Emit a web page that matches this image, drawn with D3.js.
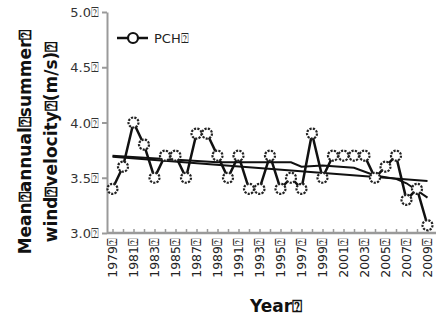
<!DOCTYPE html>
<html>
<head>
<meta charset="utf-8">
<script src="https://cdn.jsdelivr.net/npm/d3@7"></script>
<style>
  body { margin: 0; background: #fff; }
  svg { display: block; font-family: "DejaVu Sans", sans-serif; }
</style>
</head>
<body>
<div id="chart"></div>
<script>
const BOX = "\u2370";
const years = d3.range(1979, 2010);
const pch = [3.4, 3.6, 4.0, 3.8, 3.5, 3.7, 3.7, 3.5, 3.9, 3.9, 3.7, 3.5, 3.7, 3.4, 3.4,
  3.7, 3.4, 3.5, 3.4, 3.9, 3.5, 3.7, 3.7, 3.7, 3.7, 3.5, 3.6, 3.7, 3.3, 3.4, 3.07];
// straight trend (ends)
const trendYears = [1979, 2009];
const trendVals = [3.69, 3.47];
// second fitted line, read at a few years
const fitYears = [1979, 1984, 1989, 1996, 1997, 1999, 2002, 2004, 2006, 2007, 2009];
const fitVals = [3.70, 3.67, 3.64, 3.64, 3.60, 3.61, 3.59, 3.52, 3.49, 3.45, 3.32];
const yTicks = [3.0, 3.5, 4.0, 4.5, 5.0];
const xTickYears = d3.range(1979, 2010, 2);

const width = 437, height = 322;
const axisColor = "#9a9a9a";

const svg = d3.select("#chart").append("svg")
  .attr("width", width).attr("height", height);

const defs = svg.append("defs");
defs.append("filter").attr("id", "soft")
  .attr("x", "-50%").attr("y", "-50%").attr("width", "200%").attr("height", "200%")
  .append("feGaussianBlur").attr("stdDeviation", 0.5);

const x = d3.scaleLinear().domain([1979, 2009]).range([112.5, 427.5]);
const y = d3.scaleLinear().domain([3, 5]).range([233, 12]);

// y axis
const yAxis = svg.append("g").attr("transform", "translate(107,0)")
  .call(d3.axisLeft(y).tickValues(yTicks).tickSize(5).tickSizeOuter(0)
    .tickFormat(d => d3.format(".1f")(d) + BOX));
yAxis.select(".domain").attr("stroke", axisColor).attr("stroke-width", 2);
yAxis.selectAll(".tick line").attr("stroke", axisColor).attr("stroke-width", 2);
yAxis.selectAll(".tick text").attr("fill", "#333").style("font-size", "13px")
  .style("font-family", "DejaVu Sans").attr("x", -8).attr("dy", "0.35em");

// x axis
const xAxis = svg.append("g").attr("transform", "translate(0,233)")
  .call(d3.axisBottom(x).tickValues(years).tickSize(-4).tickSizeOuter(0).tickFormat(""));
xAxis.select(".domain").attr("d", "M107,0H436").attr("stroke", axisColor).attr("stroke-width", 2.5);
xAxis.selectAll(".tick line").attr("stroke", axisColor).attr("stroke-width", 1.5);

svg.append("g").selectAll("text").data(xTickYears).join("text")
  .attr("transform", d => `translate(${x(d) + 4},238) rotate(-90)`)
  .attr("text-anchor", "end")
  .attr("fill", "#222")
  .style("font-size", "12.5px")
  .text(d => d + BOX);

// titles
const yTitle = svg.append("text")
  .attr("transform", "translate(0,142) rotate(-90)")
  .attr("text-anchor", "middle")
  .style("font-size", "17px").style("font-weight", "bold").attr("fill", "#111");
yTitle.append("tspan").attr("x", 0).attr("y", 31).text("Mean" + BOX + "annual" + BOX + "summer" + BOX);
yTitle.append("tspan").attr("x", 0).attr("y", 57).text("wind" + BOX + "velocity" + BOX + "(m/s)" + BOX);

svg.append("text").attr("x", 276).attr("y", 312).attr("text-anchor", "middle")
  .style("font-size", "17px").style("font-weight", "bold").attr("fill", "#111")
  .text("Year" + BOX);

// trend lines
const line = d3.line().x(d => x(d[0])).y(d => y(d[1]));
svg.append("path").datum(d3.zip(trendYears, trendVals))
  .attr("d", line).attr("fill", "none").attr("stroke", "#111").attr("stroke-width", 2);
svg.append("path").datum(d3.zip(fitYears, fitVals))
  .attr("d", line).attr("fill", "none").attr("stroke", "#111").attr("stroke-width", 2);

// data series
svg.append("path").datum(d3.zip(years, pch))
  .attr("d", line).attr("fill", "none").attr("stroke", "#111").attr("stroke-width", 2.5);

svg.append("g").selectAll("circle").data(d3.zip(years, pch)).join("circle")
  .attr("cx", d => x(d[0])).attr("cy", d => y(d[1])).attr("r", 5)
  .attr("fill", "#fff").attr("stroke", "#222").attr("stroke-width", 2.2)
  .attr("stroke-dasharray", "2.2,1.2")
  .attr("filter", "url(#soft)");

// legend
const lg = svg.append("g");
lg.append("line").attr("x1", 117).attr("x2", 148).attr("y1", 38).attr("y2", 38)
  .attr("stroke", "#111").attr("stroke-width", 2.5);
lg.append("circle").attr("cx", 133).attr("cy", 38).attr("r", 5)
  .attr("fill", "#fff").attr("stroke", "#111").attr("stroke-width", 2.2);
lg.append("text").attr("x", 154).attr("y", 38).attr("dy", "0.35em")
  .style("font-size", "13px").attr("fill", "#222").text("PCH" + BOX);
</script>
</body>
</html>
